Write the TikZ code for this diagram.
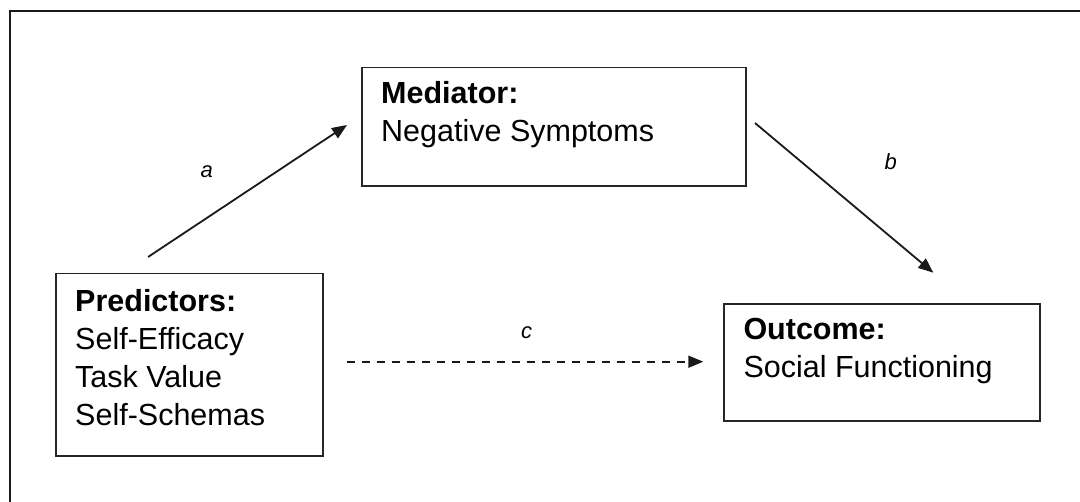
\documentclass[tikz,border=0pt]{standalone}
\usepackage{fontspec}
\setmainfont{Liberation Sans}
\usetikzlibrary{arrows.meta}
\begin{document}
\begin{tikzpicture}[x=1pt,y=-1pt,
  boxnode/.style={draw=black!85, line width=1.8pt, rectangle, inner sep=0pt, anchor=north west},
  boxtext/.style={anchor=base west, inner sep=0pt, align=left, font=\fontsize{30.5}{38}\selectfont},
  pathlabel/.style={inner sep=0pt, font=\fontsize{22}{26}\selectfont\itshape},
  conn/.style={line width=1.8pt, draw=black!90, -{Triangle[length=15pt,width=12pt]}},
  frameline/.style={line width=2pt, draw=black!90}]
\useasboundingbox (0,0) rectangle (1080,502);
% outer frame (only top and left visible)
\coordinate (fBL) at (9.5,502);
\coordinate (fTL) at (9.5,11);
\coordinate (fTR) at (1080,11);
\draw[frameline] (fBL) -- (fTL) -- (fTR);
% boxes
\node[boxnode, minimum width=384pt, minimum height=118.5pt] (med) at (361,66.7) {};
\node[boxnode, minimum width=266.7pt, minimum height=182.3pt] (pred) at (55,272.7) {};
\node[boxnode, minimum width=316pt, minimum height=116.7pt] (out) at (723.3,303.3) {};
% texts (base anchor = baseline of the last line)
\node[boxtext] (medtxt) at ([shift={(20,75)}]med.north west) {\textbf{Mediator:}\\Negative Symptoms};
\node[boxtext] (predtxt) at ([shift={(20,153.3)}]pred.north west) {\textbf{Predictors:}\\Self-Efficacy\\Task Value\\Self-Schemas};
\node[boxtext] (outtxt) at ([shift={(20,74.7)}]out.north west) {\textbf{Outcome:}\\Social Functioning};
% connector ends
\coordinate (aS) at (148,257);
\coordinate (aE) at (347,125);
\coordinate (bS) at (755,123);
\coordinate (bE) at (933.3,272.7);
\coordinate (cS) at (346.7,361.7);
\coordinate (cE) at (703.3,361.7);
\draw[conn] (aS) -- (aE);
\draw[conn] (bS) -- (bE);
\draw[conn, dash pattern=on 8pt off 7pt] (cS) -- (cE);
% labels
\node[pathlabel] (la) at (206.7,171.7) {a};
\node[pathlabel] (lb) at (890.7,161.7) {b};
\node[pathlabel] (lc) at (526.7,332.7) {c};
\end{tikzpicture}
\end{document}
